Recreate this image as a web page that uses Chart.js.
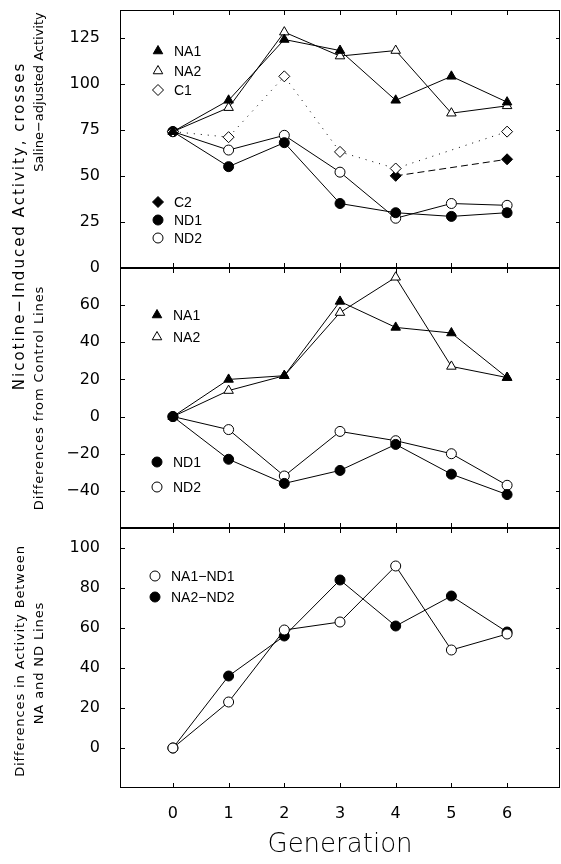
<!DOCTYPE html>
<html>
<head>
<meta charset="utf-8">
<script src="https://cdn.jsdelivr.net/npm/chart.js@4/dist/chart.umd.min.js"></script>
<style>
  html, body { margin: 0; padding: 0; background: #fff; }
  #wrap { position: relative; width: 561px; height: 864px; background: #fff; overflow: hidden; }
  #wrap canvas { position: absolute; left: 0; }
  .ytitle {
    position: absolute; white-space: nowrap; color: #000;
    font-family: "DejaVu Sans", sans-serif;
    transform: translate(-50%, -50%) rotate(-90deg);
  }
</style>
</head>
<body>
<div id="wrap">
  <canvas id="topChart" width="561" height="285" style="top:0px; width:561px; height:285px"></canvas>
  <canvas id="midChart" width="561" height="290" style="top:250px; width:561px; height:290px"></canvas>
  <canvas id="botChart" width="561" height="354" style="top:510px; width:561px; height:354px"></canvas>
  <div class="ytitle" style="left:19px; top:226px; font-size:15px; letter-spacing:2px">Nicotine&minus;Induced Activity, crosses</div>
  <div class="ytitle" style="left:38px; top:92px; font-size:13px; letter-spacing:0px">Saline&minus;adjusted Activity</div>
  <div class="ytitle" style="left:38px; top:398px; font-size:13px; letter-spacing:0.9px">Differences from Control Lines</div>
  <div class="ytitle" style="left:19px; top:661px; font-size:13px; letter-spacing:0.9px">Differences in Activity Between</div>
  <div class="ytitle" style="left:38px; top:663px; font-size:13px; letter-spacing:0.9px">NA and ND Lines</div>
</div>
<script>
// generations on the x axis
const generations = [0, 1, 2, 3, 4, 5, 6];

// top panel: saline-adjusted activity
const na1Top = [74, 91, 124, 118, 91, 104, 90];
const na2Top = [74, 87, 128, 115, 118, 84, 88];
const c1Top = [74, 71, 104, 63, 54, null, 74];
const c2Top = [null, null, null, null, 50, null, 59];
const nd1Top = [74, 55, 68, 35, 30, 28, 30];
const nd2Top = [74, 64, 72, 52, 27, 35, 34];

// middle panel: differences from control lines
const na1Mid = [0, 20, 22, 62, 48, 45, 21];
const na2Mid = [0, 14, 22, 56, 75, 27, 21];
const nd1Mid = [0, -23, -36, -29, -15, -31, -42];
const nd2Mid = [0, -7, -32, -8, -13, -20, -37];

// bottom panel: NA minus ND
const na1nd1 = [0, 23, 59, 63, 91, 49, 57];
const na2nd2 = [0, 36, 56, 84, 61, 76, 58];

// tick labels
const topTicks = [0, 25, 50, 75, 100, 125];
const midTicks = [-40, -20, 0, 20, 40, 60];
const botTicks = [0, 20, 40, 60, 80, 100];

Chart.defaults.color = '#000';
Chart.defaults.font.family = '"DejaVu Sans", sans-serif';

function pts(arr) {
  return generations.map(function (g, i) { return { x: g, y: arr[i] }; });
}

function series(label, arr, style, filled, extra) {
  return Object.assign({
    label: label,
    data: pts(arr),
    borderColor: '#000',
    borderWidth: 1,
    pointStyle: style,
    pointRadius: style === 'circle' ? 5 : 5.5,
    pointBorderWidth: 1,
    pointBorderColor: '#000',
    pointBackgroundColor: filled ? '#000' : '#fff',
    tension: 0,
    clip: false
  }, extra || {});
}

// frame with inward ticks on all four sides
const framePlugin = {
  id: 'frame',
  afterDraw: function (chart) {
    const ctx = chart.ctx, a = chart.chartArea;
    const xs = chart.scales.x, ys = chart.scales.y;
    ctx.save();
    ctx.strokeStyle = '#000';
    ctx.lineWidth = 1;
    ctx.strokeRect(a.left + 0.5, a.top + 0.5, a.right - a.left - 1, a.bottom - a.top - 1);
    ctx.beginPath();
    generations.forEach(function (g) {
      const px = Math.round(xs.getPixelForValue(g)) + 0.5;
      ctx.moveTo(px, a.top); ctx.lineTo(px, a.top + 5);
      ctx.moveTo(px, a.bottom); ctx.lineTo(px, a.bottom - 5);
    });
    ys.ticks.forEach(function (t) {
      const py = Math.round(ys.getPixelForValue(t.value)) + 0.5;
      ctx.moveTo(a.left, py); ctx.lineTo(a.left + 5, py);
      ctx.moveTo(a.right, py); ctx.lineTo(a.right - 4, py);
    });
    ctx.stroke();
    ctx.restore();
  }
};

// legend drawn inside the plot area
const innerLegend = {
  id: 'innerLegend',
  afterDraw: function (chart, args, opts) {
    const ctx = chart.ctx, a = chart.chartArea;
    ctx.save();
    ctx.font = '14px "Liberation Sans", Arial, sans-serif';
    ctx.textBaseline = 'middle';
    (opts.items || []).forEach(function (it) {
      const ds = chart.data.datasets[it.ds];
      const x = a.left + it.x, y = a.top + it.y;
      ctx.fillStyle = ds.pointBackgroundColor;
      ctx.strokeStyle = '#000';
      ctx.lineWidth = 1;
      Chart.helpers.drawPoint(ctx, { pointStyle: ds.pointStyle, radius: ds.pointRadius, rotation: 0, borderWidth: 1 }, x, y);
      ctx.fillStyle = '#000';
      ctx.fillText(ds.label, x + 16, y + 1);
    });
    ctx.restore();
  }
};

function noPad(s) {
  s.paddingTop = 0; s.paddingBottom = 0; s.paddingLeft = 0; s.paddingRight = 0;
}

function yScale(min, max, ticks) {
  return {
    type: 'linear',
    min: min,
    max: max,
    afterBuildTicks: function (s) { s.ticks = ticks.map(function (v) { return { value: v }; }); },
    afterFit: function (s) { s.width = 120; noPad(s); },
    grid: { display: false },
    border: { display: false },
    ticks: {
      padding: 12,
      font: { size: 16 },
      callback: function (v) { return v < 0 ? '\u2212' + Math.abs(v) : String(v); }
    }
  };
}

function xScale(show) {
  return {
    type: 'linear',
    min: -0.95,
    max: 6.95,
    display: show,
    afterBuildTicks: function (s) { s.ticks = generations.map(function (v) { return { value: v }; }); },
    afterFit: function (s) { if (show) s.height = 76; noPad(s); },
    grid: { display: false, drawTicks: false },
    border: { display: false },
    ticks: { padding: 16, font: { size: 16 } },
    title: {
      display: show,
      text: 'Generation',
      font: { size: 26, weight: 300 },
      padding: { top: 0, bottom: 3 }
    }
  };
}

function makeChart(id, datasets, yAxis, showX, pad, legendItems) {
  return new Chart(document.getElementById(id), {
    type: 'line',
    data: { datasets: datasets },
    options: {
      responsive: false,
      maintainAspectRatio: false,
      animation: false,
      devicePixelRatio: 1,
      layout: { padding: pad, autoPadding: false },
      scales: { x: xScale(showX), y: yAxis },
      plugins: {
        legend: { display: false },
        tooltip: { enabled: false },
        innerLegend: { items: legendItems }
      }
    },
    plugins: [framePlugin, innerLegend]
  });
}

makeChart('topChart', [
  series('NA1', na1Top, 'triangle', true),
  series('NA2', na2Top, 'triangle', false),
  series('C1', c1Top, 'rectRot', false, { borderDash: [1, 6], spanGaps: true }),
  series('C2', c2Top, 'rectRot', true, { borderDash: [7, 4], spanGaps: true }),
  series('ND1', nd1Top, 'circle', true),
  series('ND2', nd2Top, 'circle', false)
], yScale(0, 140, topTicks), false, { top: 10, bottom: 17, left: 0, right: 1 }, [
  { ds: 0, x: 38, y: 41 }, { ds: 1, x: 38, y: 61 }, { ds: 2, x: 38, y: 80 },
  { ds: 3, x: 38, y: 192 }, { ds: 4, x: 38, y: 210 }, { ds: 5, x: 38, y: 228 }
]);

makeChart('midChart', [
  series('NA1', na1Mid, 'triangle', true),
  series('NA2', na2Mid, 'triangle', false),
  series('ND1', nd1Mid, 'circle', true),
  series('ND2', nd2Mid, 'circle', false)
], yScale(-60, 80, midTicks), false, { top: 18, bottom: 12, left: 0, right: 1 }, [
  { ds: 0, x: 37, y: 47 }, { ds: 1, x: 37, y: 69 },
  { ds: 2, x: 37, y: 194 }, { ds: 3, x: 37, y: 219 }
]);

makeChart('botChart', [
  series('NA1\u2212ND1', na1nd1, 'circle', false),
  series('NA2\u2212ND2', na2nd2, 'circle', true)
], yScale(-20, 110, botTicks), true, { top: 18, bottom: 0, left: 0, right: 1 }, [
  { ds: 0, x: 35, y: 48 }, { ds: 1, x: 35, y: 69 }
]);
</script>
</body>
</html>
